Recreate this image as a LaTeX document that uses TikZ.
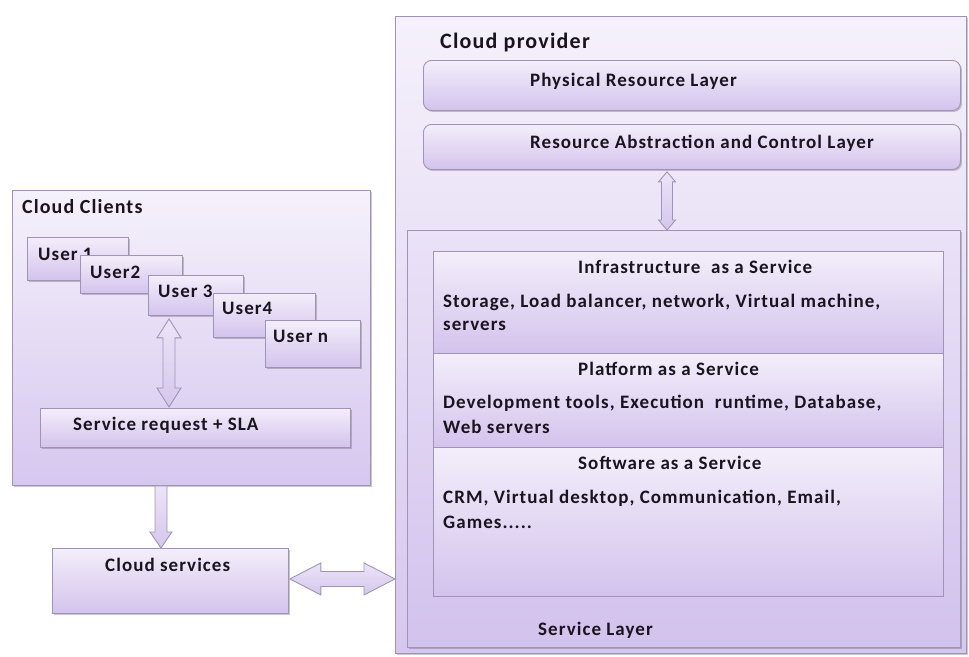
\documentclass[tikz,border=0pt]{standalone}
\usepackage{fontspec}
\setmainfont{Carlito}[LetterSpace=5.5]
\usetikzlibrary{shadows,calc}
\definecolor{bord}{RGB}{160,148,182}
\definecolor{ltop}{RGB}{243,238,250}
\definecolor{lbot}{RGB}{211,195,237}
\definecolor{otop}{RGB}{245,241,251}
\definecolor{obot}{RGB}{214,199,239}
\definecolor{stop}{RGB}{234,226,247}
\definecolor{sbot}{RGB}{210,194,237}
\definecolor{atop}{RGB}{236,229,247}
\definecolor{abot}{RGB}{212,198,236}
\definecolor{txt}{RGB}{25,20,30}
\tikzset{
  shad/.style={drop shadow={shadow xshift=1.5pt,shadow yshift=-1.5pt,opacity=0.3,fill=black!70}},
  box/.style={draw=bord,line width=0.9pt,top color=ltop,bottom color=lbot,inner sep=0pt,anchor=north west,shad},
  outerbox/.style={box,top color=otop,bottom color=obot},
  slbox/.style={box,top color=stop,bottom color=sbot},
  roundbox/.style={box,rounded corners=8pt},
  secbox/.style={draw=bord,line width=0.9pt,top color=ltop,bottom color=lbot,inner sep=0pt,anchor=north west},
  lbl/.style={font=\bfseries\fontsize{19}{22}\selectfont,inner sep=0pt,anchor=west,text=txt},
  biglbl/.style={lbl,font=\bfseries\fontsize{22}{26}\selectfont},
  fatarrow/.style={draw=bord,line width=0.9pt,top color=atop,bottom color=abot},
}
% vertical double arrow: #1 top tip, #2 bottom tip, #3 shaft half, #4 head half, #5 head length
\newcommand\vdarrow[5]{%
  \path[fatarrow] let \p1=(#1), \p2=(#2) in
    (\x1,\y1) -- (\x1+#4,\y1-#5) -- (\x1+#3,\y1-#5) -- (\x1+#3,\y2+#5) -- (\x1+#4,\y2+#5)
    -- (\x1,\y2) -- (\x1-#4,\y2+#5) -- (\x1-#3,\y2+#5) -- (\x1-#3,\y1-#5) -- (\x1-#4,\y1-#5) -- cycle;}
% vertical single arrow downward
\newcommand\vsarrow[5]{%
  \path[fatarrow] let \p1=(#1), \p2=(#2) in
    (\x1-#3,\y1) -- (\x1+#3,\y1) -- (\x1+#3,\y2+#5) -- (\x1+#4,\y2+#5)
    -- (\x1,\y2) -- (\x1-#4,\y2+#5) -- (\x1-#3,\y2+#5) -- cycle;}
% horizontal double arrow: #1 left tip, #2 right tip
\newcommand\hdarrow[5]{%
  \path[fatarrow] let \p1=(#1), \p2=(#2) in
    (\x1,\y1) -- (\x1+#5,\y1+#4) -- (\x1+#5,\y1+#3) -- (\x2-#5,\y1+#3) -- (\x2-#5,\y1+#4)
    -- (\x2,\y1) -- (\x2-#5,\y1-#4) -- (\x2-#5,\y1-#3) -- (\x1+#5,\y1-#3) -- (\x1+#5,\y1-#4) -- cycle;}
\begin{document}
\begin{tikzpicture}[x=1pt,y=-1pt]
\useasboundingbox[fill=white] (0,0) rectangle (969,656);

% ---------- Cloud provider ----------
\node[outerbox,minimum width=571pt,minimum height=637pt] (cp) at (395,16) {};
\node[biglbl] (cpt) at (440,43) {Cloud provider};
\node[roundbox,minimum width=537pt,minimum height=50pt] (prl) at (423,60) {};
\node[lbl] (prlt) at (530,81) {Physical Resource Layer};
\node[roundbox,minimum width=537pt,minimum height=45pt] (racl) at (423,124) {};
\node[lbl] (raclt) at (530,143) {Resource Abstraction and Control Layer};

\node[slbox,minimum width=553pt,minimum height=417pt] (sl) at (407,230) {};
\node[secbox,minimum width=510pt,minimum height=102pt] (iaas) at (433,251) {};
\node[secbox,minimum width=510pt,minimum height=94pt] (paas) at (433,353) {};
\node[secbox,minimum width=510pt,minimum height=149pt] (saas) at (433,447) {};

\node[lbl] (iaast) at (578,267) {Infrastructure \ as a Service};
\node[lbl] (iaasb1) at (443,302) {Storage, Load balancer, network, Virtual machine,};
\node[lbl] (iaasb2) at (443,326) {servers};
\node[lbl] (paast) at (578,369) {Platform as a Service};
\node[lbl] (paasb1) at (443,403) {Development tools, Execution \ runtime, Database,};
\node[lbl] (paasb2) at (443,427) {Web servers};
\node[lbl] (saast) at (578,463) {Software as a Service};
\node[lbl] (saasb1) at (443,498) {CRM, Virtual desktop, Communication, Email,};
\node[lbl] (saasb2) at (443,522) {Games.....};
\node[lbl] (slt) at (538,630) {Service Layer};

\coordinate (va1) at ($(racl.south west)+(244,2)$);
\coordinate (va2) at (va1 |- sl.north);
\vdarrow{va1}{va2}{5.5pt}{8.5pt}{10pt}

% ---------- Cloud Clients ----------
\node[outerbox,minimum width=358pt,minimum height=295pt] (cc) at (12,190) {};
\node[biglbl,font=\bfseries\fontsize{20}{24}\selectfont] (cct) at (22,207) {Cloud Clients};

\node[box,minimum width=101pt,minimum height=43pt] (u1) at (27,237) {};
\node[lbl] (u1t) at (38,254) {User 1};
\node[box,minimum width=102pt,minimum height=38pt] (u2) at (80,255) {};
\node[lbl] (u2t) at (90,272) {User2};
\node[box,minimum width=95pt,minimum height=40pt] (u3) at (148,275) {};
\node[lbl] (u3t) at (158,291) {User 3};
\node[box,minimum width=102pt,minimum height=44pt] (u4) at (213,293) {};
\node[lbl] (u4t) at (222,308) {User4};
\node[box,minimum width=95pt,minimum height=47pt] (un) at (265,320) {};
\node[lbl] (unt) at (273,336) {User n};

\node[box,minimum width=310pt,minimum height=39pt] (sr) at (40,408) {};
\node[lbl] (srt) at (73,425) {Service request + SLA};

\coordinate (ua1) at ($(u3.south west)+(21,3)$);
\coordinate (ua2) at ($(ua1 |- sr.north)+(0,-1)$);
\vdarrow{ua1}{ua2}{6pt}{12pt}{19pt}

% ---------- Cloud services ----------
\node[box,minimum width=236pt,minimum height=65pt] (cs) at (52,548) {};
\node[lbl] (cst) at (105,565) {Cloud services};

\coordinate (da1) at ($(cc.south west)+(149,0)$);
\coordinate (da2) at (da1 |- cs.north);
\vsarrow{da1}{da2}{6pt}{11pt}{16pt}

\coordinate (ha1) at ($(cs.east)+(1,-2)$);
\coordinate (ha2) at (ha1 -| cp.west);
\hdarrow{ha1}{ha2}{7.5pt}{16pt}{31pt}
\end{tikzpicture}
\end{document}
